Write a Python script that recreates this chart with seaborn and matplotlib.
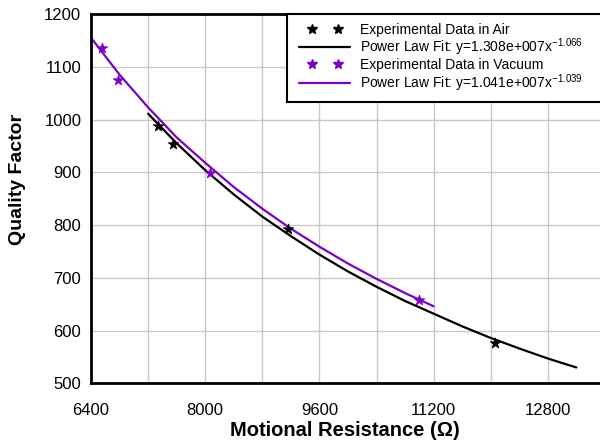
import numpy as np
import pandas as pd
import seaborn as sns
import matplotlib.pyplot as plt
from matplotlib.lines import Line2D
from matplotlib.legend_handler import HandlerLine2D
from matplotlib.ticker import MultipleLocator

# ------------------------------------------------------------
# Data
# ------------------------------------------------------------
air_r = [7334, 7553, 9164, 12060]
air_q = [988, 953, 792, 577]

vac_r = [6550, 6783, 8067, 10995]
vac_q = [1136, 1075, 898, 657]

# power law fit curves, sampled every 400 ohm
air_fit_r = [7200, 7600, 8000, 8400, 8800, 9200, 9600, 10000, 10400,
             10800, 11200, 11600, 12000, 12400, 12800, 13200]
air_fit_q = [1011, 955, 904, 858, 816, 779, 744, 712, 683,
             656, 632, 608, 586, 566, 547, 530]

vac_fit_r = [6400, 6800, 7200, 7600, 8000, 8400, 8800, 9200, 9600,
             10000, 10400, 10800, 11200]
vac_fit_q = [1155, 1085, 1023, 966, 918, 872, 831, 793, 759,
             727, 698, 671, 646]

labels = ["Experimental Data in Air",
          r"Power Law Fit: y=1.308e+007x$^{-1.066}$",
          "Experimental Data in Vacuum",
          r"Power Law Fit: y=1.041e+007x$^{-1.039}$"]

x_ticks = [6400, 8000, 9600, 11200, 12800]
y_ticks = [500, 600, 700, 800, 900, 1000, 1100, 1200]

BLACK = "#000000"
PURPLE = "#7D00C3"

# ------------------------------------------------------------
sns.set_theme(style="whitegrid")
plt.rcParams["font.family"] = ["Liberation Sans", "DejaVu Sans"]
plt.rcParams["mathtext.fontset"] = "custom"
plt.rcParams["mathtext.rm"] = "Liberation Sans"
plt.rcParams["mathtext.it"] = "Liberation Sans:italic"
plt.rcParams["mathtext.default"] = "regular"

fig = plt.figure(figsize=(6.0, 4.41), dpi=100)
# plot area runs past the right edge of the picture (cropped original)
ax = fig.add_axes([91 / 600, 1 - 383.3 / 441, 571 / 600, 369.3 / 441])

air_fit = pd.DataFrame({"r": air_fit_r, "q": air_fit_q})
vac_fit = pd.DataFrame({"r": vac_fit_r, "q": vac_fit_q})

sns.lineplot(data=air_fit, x="r", y="q", color=BLACK, lw=1.6, ax=ax)
sns.scatterplot(x=air_r, y=air_q, marker="*", s=62, color=BLACK,
                edgecolor=BLACK, linewidth=0.6, ax=ax, zorder=3)
sns.lineplot(data=vac_fit, x="r", y="q", color=PURPLE, lw=1.6, ax=ax)
sns.scatterplot(x=vac_r, y=vac_q, marker="*", s=62, color=PURPLE,
                edgecolor=PURPLE, linewidth=0.6, ax=ax, zorder=2)

ax.set_xlim(6400, 14400)
ax.set_ylim(500, 1200)
ax.set_xticks(x_ticks)
ax.set_yticks(y_ticks)
ax.xaxis.set_minor_locator(MultipleLocator(800))
ax.grid(True, which="both", color="#C8C8C8", lw=1.0)
ax.set_axisbelow(True)
ax.tick_params(axis="both", which="both", length=0, labelsize=12,
               colors="black")
ax.tick_params(axis="x", pad=14)
ax.tick_params(axis="y", pad=7)

for side in ["left", "bottom", "top"]:
    ax.spines[side].set_color("black")
    ax.spines[side].set_linewidth(2.0)
ax.spines["right"].set_visible(False)

ax.set_xlabel("Motional Resistance (\u03a9)", fontsize=14.5,
              fontweight="bold", color="black")
ax.set_ylabel("Quality Factor", fontsize=14, fontweight="bold",
              color="black")
ax.xaxis.set_label_coords((345 - 91) / 571, -(430 - 383.3) / 369.3)
ax.xaxis.label.set_va("center")
ax.yaxis.set_label_coords((18 - 91) / 571, (383.3 - 179) / 369.3)
ax.yaxis.label.set_va("center")

star_air = Line2D([], [], ls="none", marker="*", ms=7.5, color=BLACK)
star_vac = Line2D([], [], ls="none", marker="*", ms=7.5, color=PURPLE)
handles = [
    star_air,
    Line2D([], [], color=BLACK, lw=1.6),
    star_vac,
    Line2D([], [], color=PURPLE, lw=1.6),
]
star_handler = HandlerLine2D(marker_pad=1.2, numpoints=2)
x0 = 286.7 / 600
y1 = 1 - 14 / 441
y0 = 1 - 99.3 / 441
leg = ax.legend(handles, labels, loc="upper left",
                bbox_to_anchor=(x0, y0, 640 / 600 - x0, y1 - y0),
                bbox_transform=fig.transFigure, mode="expand",
                handler_map={star_air: star_handler, star_vac: star_handler},
                fontsize=10, numpoints=2, handlelength=4.25,
                handletextpad=0.43, labelspacing=0.0, borderpad=0.62,
                borderaxespad=0, fancybox=False, framealpha=1)
leg.get_frame().set_edgecolor("black")
leg.get_frame().set_linewidth(1.5)
for t in leg.get_texts():
    t.set_color("black")

fig.savefig("out.png", dpi=100)
